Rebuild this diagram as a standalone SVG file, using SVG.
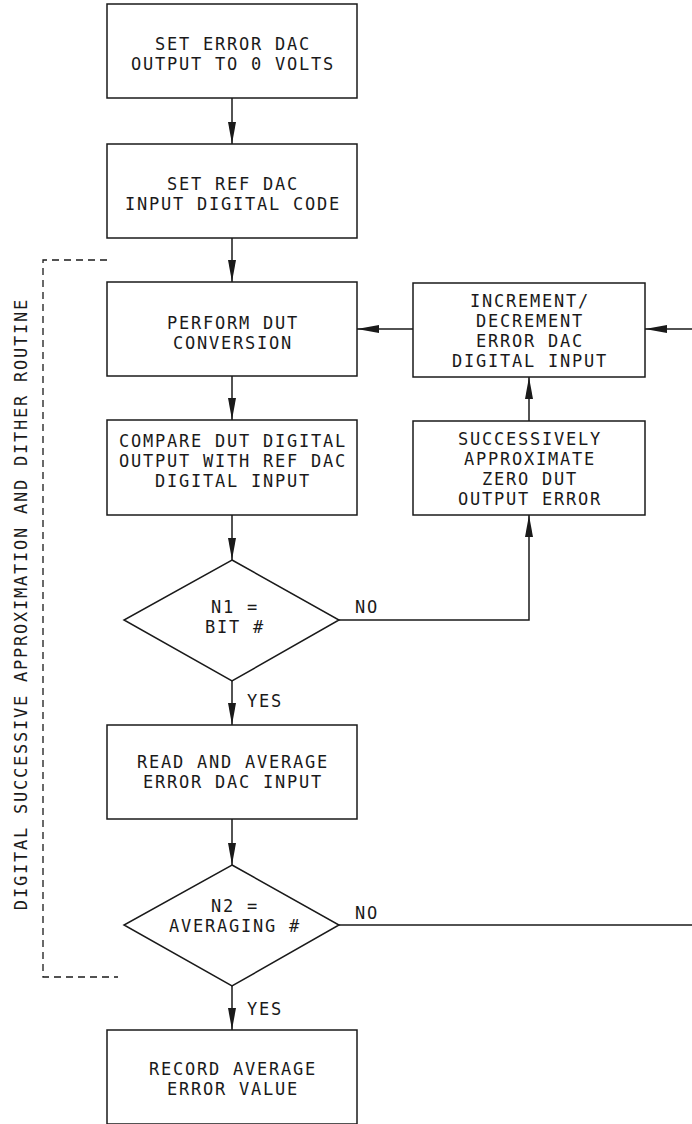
<svg xmlns="http://www.w3.org/2000/svg" width="692" height="1124" viewBox="0 0 692 1124">
<style>
.box{fill:#fff;stroke:#1a1a1a;stroke-width:1.5}
.ln{fill:none;stroke:#1a1a1a;stroke-width:1.5}
.dash{fill:none;stroke:#1a1a1a;stroke-width:1.3;stroke-dasharray:7 5}
text{font-family:"DejaVu Sans Mono","Liberation Mono",monospace;font-size:17px;letter-spacing:1.77px;fill:#1a1a1a}
.c{text-anchor:middle}
</style>
<defs>
<marker id="ah" markerUnits="userSpaceOnUse" markerWidth="22" markerHeight="8" refX="22" refY="4" orient="auto">
<path d="M0,0 L22,4 L0,8 Z" fill="#1a1a1a"/>
</marker>
</defs>
<rect width="692" height="1124" fill="#fff"/>
<g id="connectors">
<path class="ln" d="M232,98 V144" marker-end="url(#ah)"/>
<path class="ln" d="M232,238 V282" marker-end="url(#ah)"/>
<path class="ln" d="M232,376 V420" marker-end="url(#ah)"/>
<path class="ln" d="M232,515 V560" marker-end="url(#ah)"/>
<path class="ln" d="M232,681 V725" marker-end="url(#ah)"/>
<path class="ln" d="M232,819 V865" marker-end="url(#ah)"/>
<path class="ln" d="M232,986 V1030" marker-end="url(#ah)"/>
<path class="ln" d="M413,329 H357" marker-end="url(#ah)"/>
<path class="ln" d="M692,329 H645" marker-end="url(#ah)"/>
<path class="ln" d="M529,421 V377" marker-end="url(#ah)"/>
<path class="ln" d="M339,620 H529 V515" marker-end="url(#ah)"/>
<path class="ln" d="M339,925 H692"/>
<text x="355" y="613">NO</text>
<text x="355" y="919">NO</text>
<text x="247" y="707">YES</text>
<text x="247" y="1015">YES</text>
</g>
<g id="bracket">
<path class="dash" d="M107,260 H43 V977 H118"/>
<text transform="translate(27,604) rotate(-90)" class="c">DIGITAL SUCCESSIVE APPROXIMATION AND DITHER ROUTINE</text>
</g>
<g id="n1">
<rect class="box" x="107" y="4" width="250" height="94"/>
<text class="c" x="233" y="50">SET ERROR DAC</text>
<text class="c" x="233" y="70">OUTPUT TO 0 VOLTS</text>
</g>
<g id="n2">
<rect class="box" x="107" y="144" width="250" height="94"/>
<text class="c" x="233" y="190">SET REF DAC</text>
<text class="c" x="233" y="210">INPUT DIGITAL CODE</text>
</g>
<g id="n3">
<rect class="box" x="107" y="282" width="250" height="94"/>
<text class="c" x="233" y="329">PERFORM DUT</text>
<text class="c" x="233" y="349">CONVERSION</text>
</g>
<g id="n4">
<rect class="box" x="107" y="420" width="250" height="95"/>
<text class="c" x="233" y="447">COMPARE DUT DIGITAL</text>
<text class="c" x="233" y="467">OUTPUT WITH REF DAC</text>
<text class="c" x="233" y="487">DIGITAL INPUT</text>
</g>
<g id="n5">
<rect class="box" x="413" y="283" width="232" height="94"/>
<text class="c" x="530" y="307">INCREMENT/</text>
<text class="c" x="530" y="327">DECREMENT</text>
<text class="c" x="530" y="347">ERROR DAC</text>
<text class="c" x="530" y="367">DIGITAL INPUT</text>
</g>
<g id="n6">
<rect class="box" x="413" y="421" width="232" height="94"/>
<text class="c" x="530" y="445">SUCCESSIVELY</text>
<text class="c" x="530" y="465">APPROXIMATE</text>
<text class="c" x="530" y="485">ZERO DUT</text>
<text class="c" x="530" y="505">OUTPUT ERROR</text>
</g>
<g id="d1">
<polygon class="box" points="232,560 339,620 232,681 124,620"/>
<text class="c" x="235" y="613">N1 =</text>
<text class="c" x="235" y="633">BIT #</text>
</g>
<g id="n7">
<rect class="box" x="107" y="725" width="250" height="94"/>
<text class="c" x="233" y="768">READ AND AVERAGE</text>
<text class="c" x="233" y="788">ERROR DAC INPUT</text>
</g>
<g id="d2">
<polygon class="box" points="232,865 339,925 232,986 124,925"/>
<text class="c" x="235" y="912">N2 =</text>
<text class="c" x="235" y="932">AVERAGING #</text>
</g>
<g id="n8">
<rect class="box" x="107" y="1030" width="250" height="94"/>
<text class="c" x="233" y="1075">RECORD AVERAGE</text>
<text class="c" x="233" y="1095">ERROR VALUE</text>
</g>
</svg>
